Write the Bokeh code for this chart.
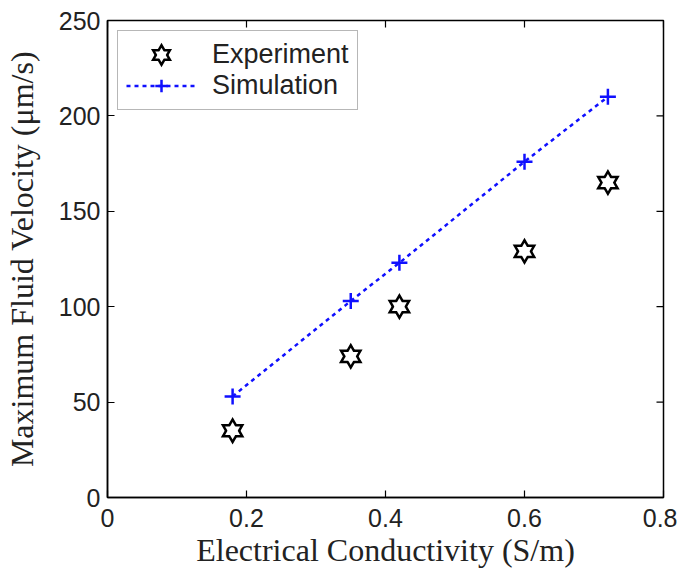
from bokeh.plotting import figure
from bokeh.models import Range1d, Legend, LegendItem, FixedTicker
from bokeh.embed import file_html
from bokeh.resources import INLINE

# ---- data ----
conductivity = [0.18, 0.35, 0.42, 0.60, 0.72]
experiment = [35, 74, 100, 129, 165]
simulation = [53, 103, 123, 176, 210]
x_ticks = [0, 0.2, 0.4, 0.6, 0.8]
x_tick_labels = ["0", "0.2", "0.4", "0.6", "0.8"]
y_ticks = [0, 50, 100, 150, 200, 250]
y_tick_labels = ["0", "50", "100", "150", "200", "250"]
x_min, x_max = 0, 0.8
y_min, y_max = 0, 250

p = figure(frame_width=556, frame_height=477,
           x_range=Range1d(x_min, x_max), y_range=Range1d(y_min, y_max),
           output_backend="svg", toolbar_location=None,
           min_border_left=102, min_border_top=20,
           min_border_right=14, min_border_bottom=10,
           background_fill_color="white", border_fill_color="white")
p.xgrid.visible = False
p.ygrid.visible = False
p.outline_line_color = "black"
p.outline_line_width = 1.5

TICK_FONT = "Liberation Sans"
LABEL_FONT = "Liberation Serif"
TICK_LEN = 7

xax = p.xaxis[0]
yax = p.yaxis[0]
xax.ticker = FixedTicker(ticks=x_ticks)
yax.ticker = FixedTicker(ticks=y_ticks)
xax.major_label_overrides = {v: s for v, s in zip(x_ticks, x_tick_labels)}
yax.major_label_overrides = {v: s for v, s in zip(y_ticks, y_tick_labels)}
xax.axis_label = "Electrical Conductivity (S/m)"
yax.axis_label = "Maximum Fluid Velocity (\u03bcm/s)"
for ax in (xax, yax):
    ax.major_label_text_font = TICK_FONT
    ax.major_label_text_font_size = "25px"
    ax.major_label_text_color = "#222222"
    ax.axis_label_text_font = LABEL_FONT
    ax.axis_label_text_font_size = "32px"
    ax.axis_label_text_font_style = "normal"
    ax.axis_label_text_color = "#222222"
    ax.major_tick_in = TICK_LEN
    ax.major_tick_out = 0
    ax.minor_tick_line_color = None
    ax.axis_line_color = "black"
    ax.axis_line_width = 1.5
    ax.major_tick_line_color = "black"
    ax.major_tick_line_width = 1.2
xax.major_label_standoff = 11
xax.axis_label_standoff = 2
yax.major_label_standoff = 7
yax.axis_label_standoff = 16

# mirrored ticks on the top and right edges (box on, ticks inside)
p.ray(x=x_ticks, y=[y_max] * len(x_ticks), length=TICK_LEN, length_units="screen",
      angle=-90, angle_units="deg", line_color="black", line_width=1.2)
p.ray(x=[x_max] * len(y_ticks), y=y_ticks, length=TICK_LEN, length_units="screen",
      angle=180, angle_units="deg", line_color="black", line_width=1.2)

# ---- Simulation: blue dotted line with plus markers ----
BLUE = "#1010ff"
sim_line = p.line(conductivity, simulation, line_color=BLUE,
                  line_width=2.5, line_dash="4 4")
sim_pts = p.scatter(conductivity, simulation, marker="cross", size=16,
                    line_color=BLUE, line_width=2.5)

# ---- Experiment: six-pointed star outlines ----
STAR = 15
STAR_W = 5
st1 = p.scatter(conductivity, experiment, marker="triangle", size=STAR,
                fill_color=None, line_color="black", line_width=STAR_W,
                line_join="miter")
st2 = p.scatter(conductivity, experiment, marker="inverted_triangle", size=STAR,
                fill_color=None, line_color="black", line_width=STAR_W,
                line_join="miter")
st3 = p.scatter(conductivity, experiment, marker="triangle", size=STAR,
                fill_color="white", line_color=None)
st4 = p.scatter(conductivity, experiment, marker="inverted_triangle", size=STAR,
                fill_color="white", line_color=None)

legend = Legend(items=[
    LegendItem(label="Experiment", renderers=[st1, st2, st3, st4]),
    LegendItem(label="Simulation", renderers=[sim_line, sim_pts]),
])
legend.location = "top_left"
legend.margin = 10
legend.padding = 8
legend.spacing = 0
legend.glyph_width = 70
legend.glyph_height = 31
legend.label_height = 31
legend.label_standoff = 16
legend.label_text_font = TICK_FONT
legend.label_text_font_size = "27px"
legend.label_text_color = "#222222"
legend.border_line_color = "#707070"
legend.border_line_width = 1.5
legend.background_fill_color = "white"
legend.background_fill_alpha = 1.0
p.add_layout(legend, "center")

open("out.html", "w").write(file_html(p, INLINE))
